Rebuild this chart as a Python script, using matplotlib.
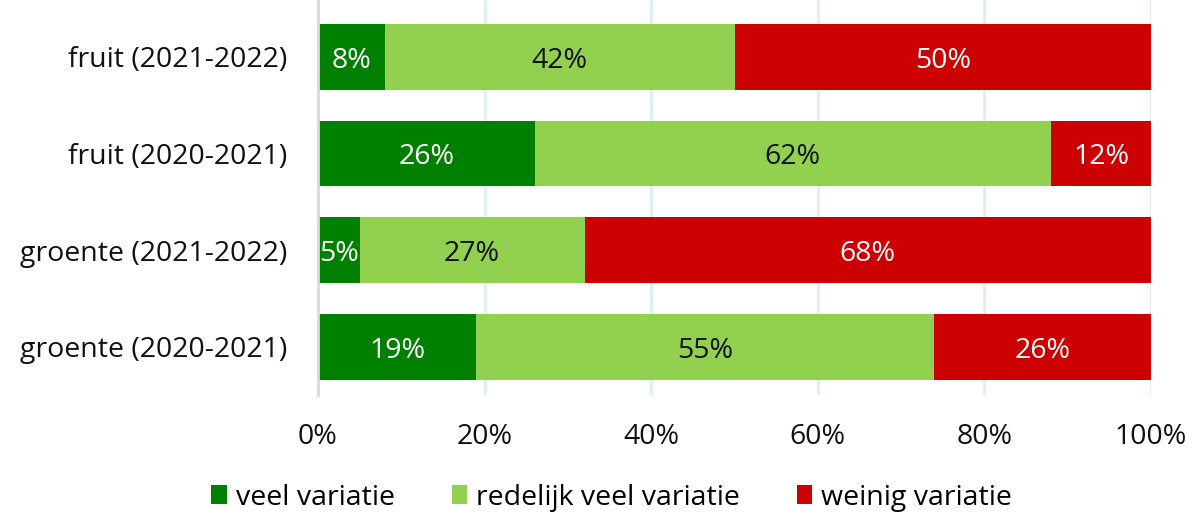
import matplotlib
matplotlib.use("Agg")
import matplotlib.pyplot as plt
import numpy as np
from matplotlib.patches import Patch

plt.rcParams["font.family"] = ["Open Sans", "DejaVu Sans"]

# ---------- data ----------
categories = ["groente (2020-2021)", "groente (2021-2022)",
              "fruit (2020-2021)", "fruit (2021-2022)"]
veel = [19, 5, 26, 8]
redelijk = [55, 27, 62, 42]
weinig = [26, 68, 12, 50]

series = [
    ("veel variatie", veel, "#008000", "white"),
    ("redelijk veel variatie", redelijk, "#92D050", "#111111"),
    ("weinig variatie", weinig, "#CC0000", "white"),
]
ticks = [0, 20, 40, 60, 80, 100]

fig = plt.figure(figsize=(11.92, 5.14), dpi=100)
ax = fig.add_axes([318 / 1192, 1 - 395 / 514, (1151 - 318) / 1192, 395 / 514])

y = np.arange(len(categories))
left = np.zeros(len(categories))
handles = []
for name, vals, color, tcolor in series:
    vals = np.array(vals, dtype=float)
    ax.barh(y, vals, left=left, height=0.68, color=color, zorder=2)
    for yi, l, v in zip(y, left, vals):
        ax.text(l + v / 2, yi - 0.04, f"{int(v)}%", ha="center", va="center",
                color=tcolor, fontsize=20.5, zorder=3)
    left += vals
    handles.append(Patch(facecolor=color, label=name))

ax.set_xlim(0, 100)
ax.set_ylim(-0.5, 3.59)
ax.set_xticks(ticks)
ax.set_xticklabels([f"{t}%" for t in ticks], fontsize=20.5, color="#111111")
ax.set_yticks(y)
ax.set_yticklabels(categories, fontsize=20.5, color="#111111")
ax.tick_params(axis="both", length=0)
ax.tick_params(axis="x", pad=20)
ax.tick_params(axis="y", pad=22)

for t in ticks[1:]:
    ax.axvline(t, color="#DDEFF3", linewidth=2, zorder=1)
for s in ["top", "right", "bottom"]:
    ax.spines[s].set_visible(False)
ax.spines["left"].set_color("#D9D9D9")
ax.spines["left"].set_linewidth(2)

fig.legend(handles=handles, loc="lower center", bbox_to_anchor=(0.513, -0.045),
           ncol=3, frameon=False, fontsize=20.5, handlelength=0.55, handleheight=0.6,
           handletextpad=0.3, columnspacing=2.0)

fig.savefig("out.png", dpi=100)
